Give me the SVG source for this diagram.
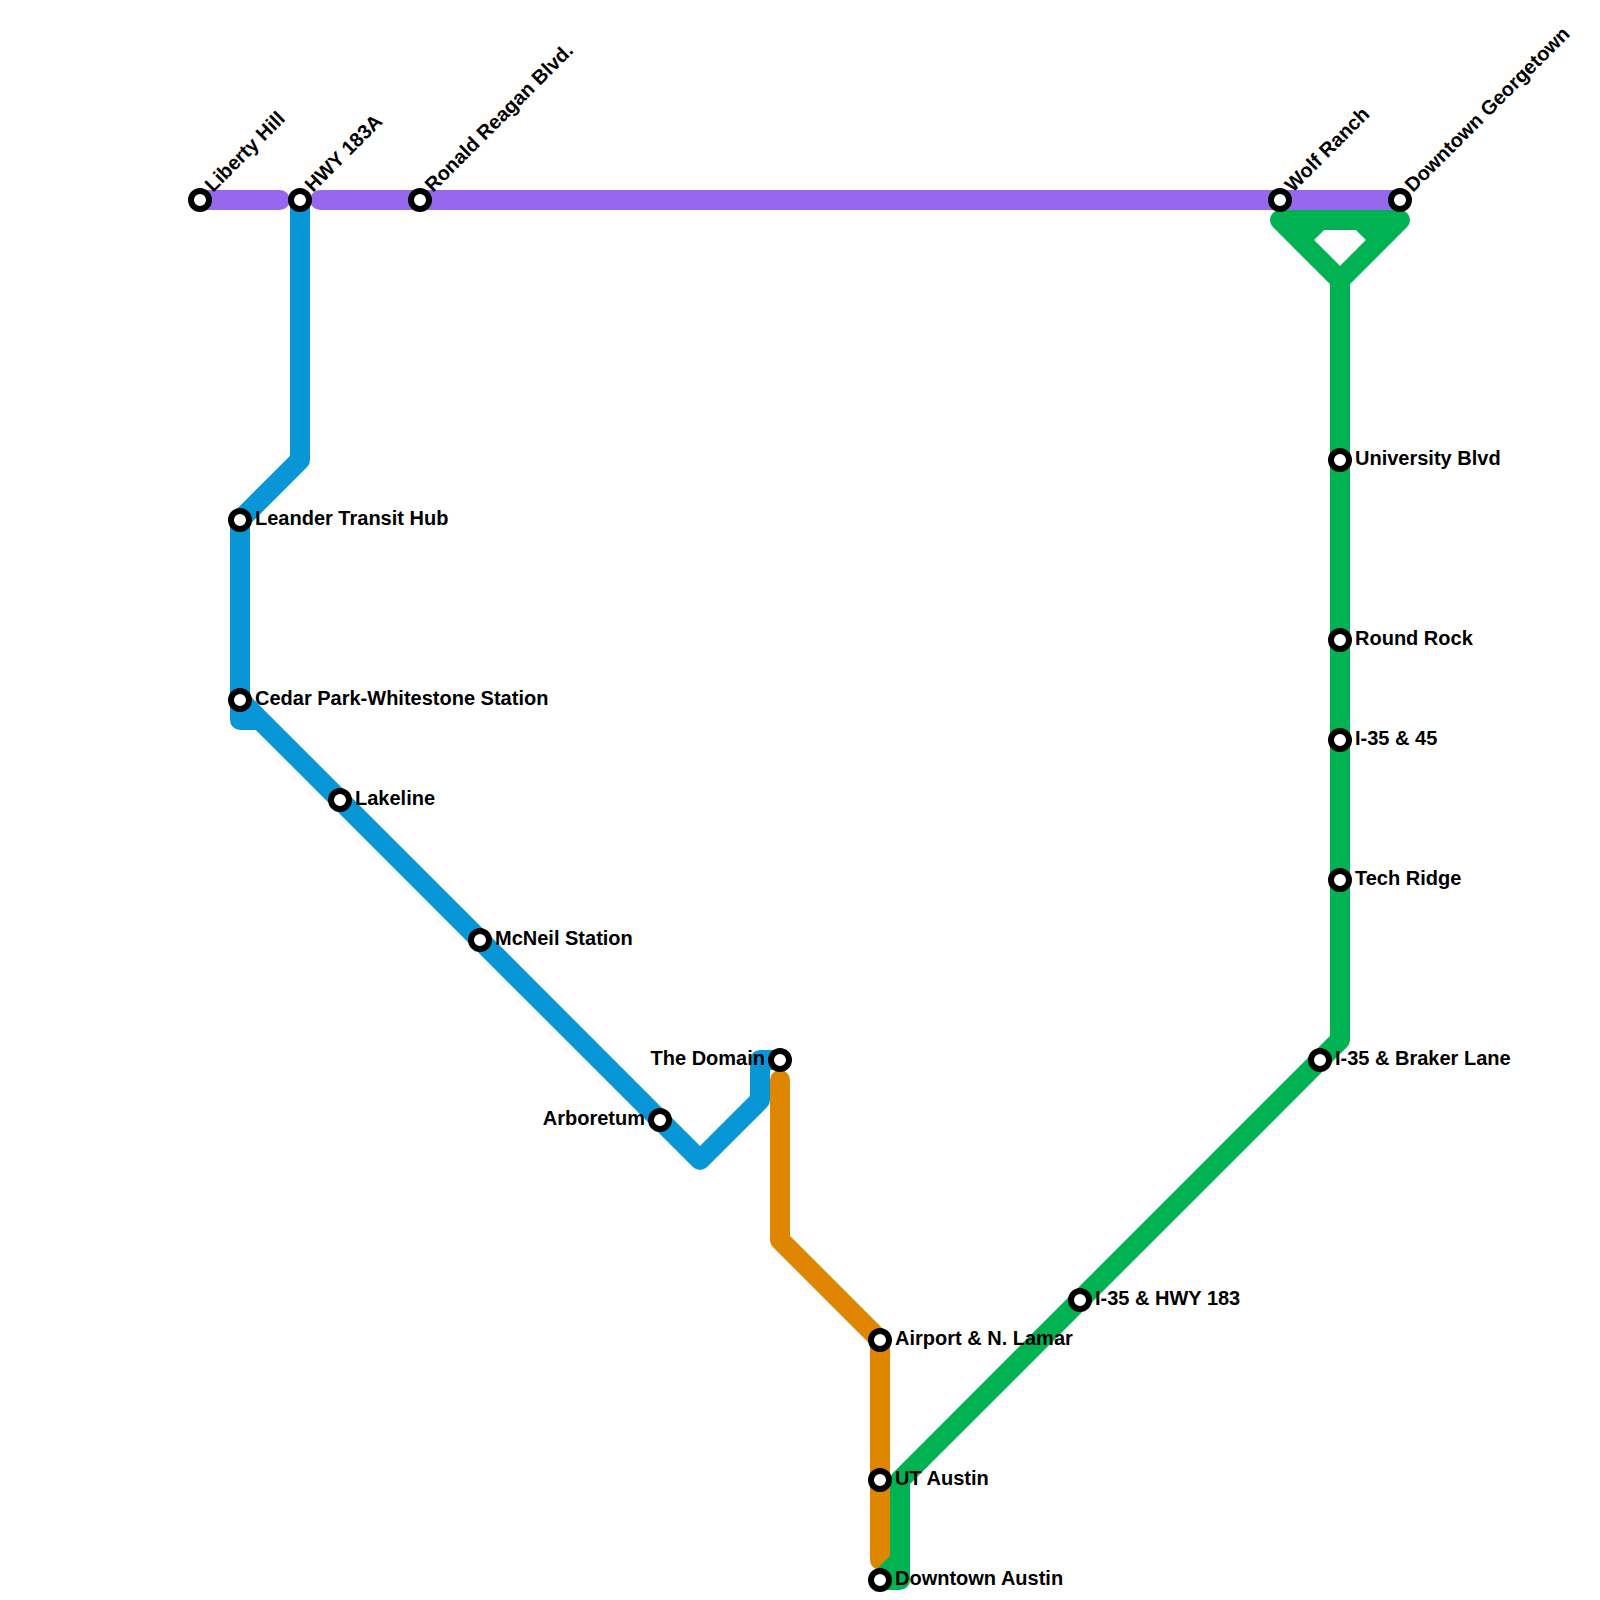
<svg xmlns="http://www.w3.org/2000/svg" width="1600" height="1600" viewBox="0 0 1600 1600">
<style>
.l{fill:none;stroke-width:20;stroke-linecap:round;stroke-linejoin:round}
.s{fill:#fff;stroke:#000;stroke-width:6}
text{font-family:"Liberation Sans",Arial,sans-serif;font-size:20px;font-weight:700;fill:#000}
.e{text-anchor:end}
</style>
<rect width="1600" height="1600" fill="#fff"/>
<g id="connectors">
<path class="l" stroke="#9768ee" d="M200 200H280M320 200H1400"/>
<path class="l" stroke="#0896d7" d="M300 200V460L240 520V720H260L700 1160L760 1100V1060H780M240 700L260 720"/>
<path class="l" stroke="#df8600" d="M780 1080V1240L880 1340V1560"/>
<path class="l" stroke="#00b251" d="M1340 280V1040L900 1480V1580H880L900 1560M1340 280L1280 220H1400L1340 280M1320 220L1300 240M1360 220L1380 240"/>
</g>
<g id="n1"><circle class="s" cx="200" cy="200" r="9"/><text transform="translate(213 193) rotate(-45)">Liberty Hill</text></g>
<g id="n2"><circle class="s" cx="300" cy="200" r="9"/><text transform="translate(313 193) rotate(-45)">HWY 183A</text></g>
<g id="n3"><circle class="s" cx="420" cy="200" r="9"/><text transform="translate(433 193) rotate(-45)">Ronald Reagan Blvd.</text></g>
<g id="n4"><circle class="s" cx="1280" cy="200" r="9"/><text transform="translate(1293 193) rotate(-45)">Wolf Ranch</text></g>
<g id="n5"><circle class="s" cx="1400" cy="200" r="9"/><text transform="translate(1413 193) rotate(-45)">Downtown Georgetown</text></g>
<g id="n6"><circle class="s" cx="240" cy="520" r="9"/><text x="255" y="525">Leander Transit Hub</text></g>
<g id="n7"><circle class="s" cx="240" cy="700" r="9"/><text x="255" y="705">Cedar Park-Whitestone Station</text></g>
<g id="n8"><circle class="s" cx="340" cy="800" r="9"/><text x="355" y="805">Lakeline</text></g>
<g id="n9"><circle class="s" cx="480" cy="940" r="9"/><text x="495" y="945">McNeil Station</text></g>
<g id="n10"><circle class="s" cx="660" cy="1120" r="9"/><text class="e" x="645" y="1125">Arboretum</text></g>
<g id="n11"><circle class="s" cx="780" cy="1060" r="9"/><text class="e" x="765" y="1065">The Domain</text></g>
<g id="n12"><circle class="s" cx="880" cy="1340" r="9"/><text x="895" y="1345">Airport &amp; N. Lamar</text></g>
<g id="n13"><circle class="s" cx="880" cy="1480" r="9"/><text x="895" y="1485">UT Austin</text></g>
<g id="n14"><circle class="s" cx="880" cy="1580" r="9"/><text x="895" y="1585">Downtown Austin</text></g>
<g id="n15"><circle class="s" cx="1080" cy="1300" r="9"/><text x="1095" y="1305">I-35 &amp; HWY 183</text></g>
<g id="n16"><circle class="s" cx="1320" cy="1060" r="9"/><text x="1335" y="1065">I-35 &amp; Braker Lane</text></g>
<g id="n17"><circle class="s" cx="1340" cy="880" r="9"/><text x="1355" y="885">Tech Ridge</text></g>
<g id="n18"><circle class="s" cx="1340" cy="740" r="9"/><text x="1355" y="745">I-35 &amp; 45</text></g>
<g id="n19"><circle class="s" cx="1340" cy="640" r="9"/><text x="1355" y="645">Round Rock</text></g>
<g id="n20"><circle class="s" cx="1340" cy="460" r="9"/><text x="1355" y="465">University Blvd</text></g>
</svg>
